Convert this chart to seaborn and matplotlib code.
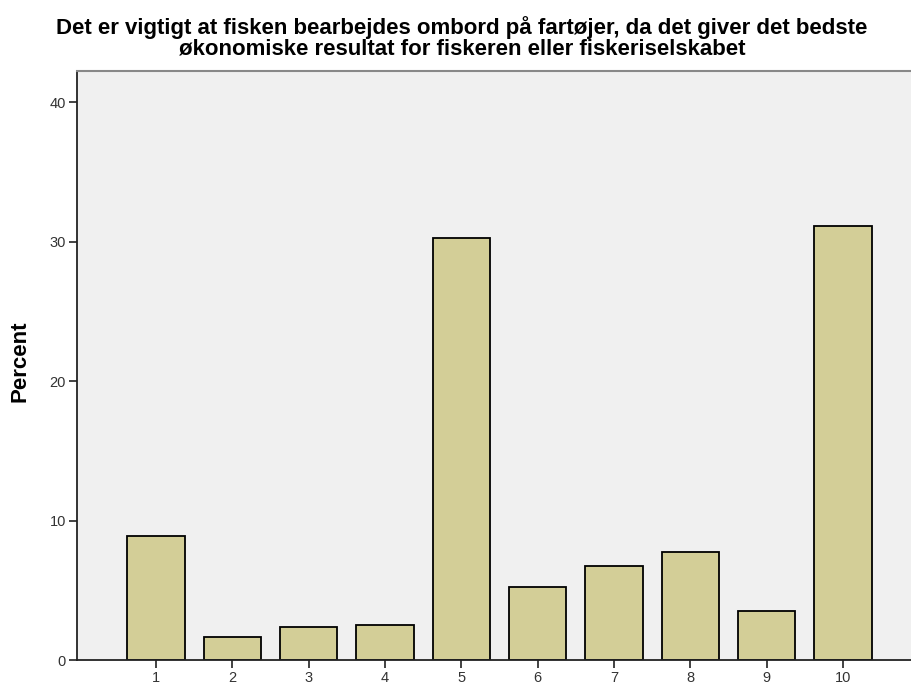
import matplotlib
matplotlib.use("Agg")
import matplotlib.pyplot as plt
import seaborn as sns
import pandas as pd

categories = ["1", "2", "3", "4", "5", "6", "7", "8", "9", "10"]
percent = [8.93, 1.62, 2.34, 2.51, 30.27, 5.25, 6.76, 7.74, 3.51, 31.13]
yticks = [0, 10, 20, 30, 40]
title = ("Det er vigtigt at fisken bearbejdes ombord på fartøjer, da det giver det bedste\n"
         "økonomiske resultat for fiskeren eller fiskeriselskabet")

df = pd.DataFrame({"cat": categories, "pct": percent})

sns.set_theme(style="white")
plt.rcParams["font.family"] = ["Liberation Sans", "DejaVu Sans"]

fig = plt.figure(figsize=(9.12, 6.86), dpi=100)
ax = fig.add_axes([77 / 912, 1 - 660 / 686, 1 - 77 / 912, (660 - 71) / 686])
ax.set_facecolor("#f0f0f0")

sns.barplot(data=df, x="cat", y="pct", order=categories, color="#d3ce97",
            saturation=1, width=0.75, edgecolor="black", linewidth=1.3, ax=ax)

ax.set_ylim(0, 42.25)
ax.set_xlim(-1.035, 9 + (912 - 843) / 76.3)
ax.set_yticks(yticks)
ax.set_yticklabels([str(t) for t in yticks])
ax.set_xlabel("")
ax.set_ylabel("Percent", fontsize=16, fontweight="bold", color="black")
ax.yaxis.set_label_coords((31 - 77) / 835, (660 - 361) / 589)

ax.tick_params(axis="both", which="both", direction="out", length=6, width=1.2,
               colors="#222222", labelsize=10.5, labelcolor="#333333",
               left=True, bottom=True, pad=2)

for s in ["left", "bottom"]:
    ax.spines[s].set_color("#222222")
    ax.spines[s].set_linewidth(1.3)
ax.spines["top"].set_color("#888888")
ax.spines["top"].set_linewidth(1.5)
ax.spines["right"].set_visible(False)

fig.suptitle(title, x=462 / 912, y=1 - 16 / 686, va="top", fontsize=16,
             fontweight="bold", linespacing=0.98, color="black")

fig.savefig("out.png", dpi=100, facecolor="white")
